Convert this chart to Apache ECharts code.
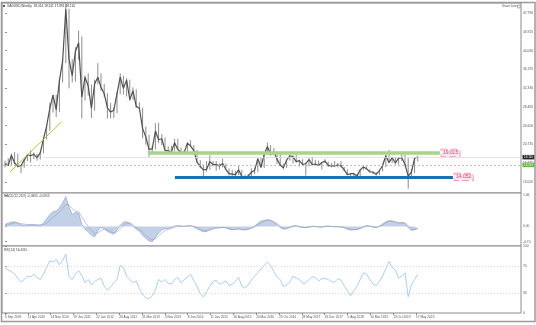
<!DOCTYPE html>
<html><head><meta charset="utf-8">
<script src="https://cdn.jsdelivr.net/npm/echarts@6/dist/echarts.min.js"></script>
<style>html,body{margin:0;padding:0;background:#fff}#c{width:536px;height:325px}</style>
</head><body><div id="c"></div>
<script>
// Monthly series, index 0 = Sep 2009 ... index 129 = Jun 2020 (XAGUSD)
const closes = [16.6,16.4,18.5,16.9,
16.2,16.4,17.5,18.6,18.4,18.7,18.0,19.0,21.8,24.5,28.2,30.9,
27.9,33.9,37.9,48.6,38.4,34.9,39.9,41.7,30.5,34.6,32.8,28.2,
33.2,34.6,32.5,31.2,28.3,27.4,27.8,31.2,34.6,32.3,34.0,30.0,
31.8,28.6,28.2,24.0,22.3,19.7,19.8,23.5,21.7,21.9,19.5,19.4,
19.2,21.1,19.7,19.1,19.1,21.0,20.4,19.5,17.1,16.2,15.5,15.6,
17.2,16.6,16.6,16.3,16.8,15.6,14.7,14.6,14.5,15.5,14.1,13.8,
14.2,15.0,15.4,17.8,16.0,18.7,20.3,18.7,19.2,17.7,16.5,15.9,
17.5,18.4,18.2,17.2,17.4,16.6,16.8,17.6,16.6,16.7,16.4,17.0,
17.3,16.4,16.3,16.3,16.5,16.3,15.5,14.5,14.7,14.7,14.2,15.5,
16.1,15.7,15.1,15.0,14.6,15.3,16.4,18.4,17.0,18.0,16.9,17.9,
18.0,16.6,14.2,15.0,17.9,18.11];
const highs = [17.4,17.9,18.9,19.2,
18.8,16.5,17.6,18.8,19.5,19.1,18.8,19.2,22.1,24.8,29.3,31.0,
31.0,34.3,38.2,49.8,48.7,38.3,40.8,44.2,43.0,35.0,35.4,33.1,
34.1,37.5,35.4,33.2,31.3,29.3,28.3,31.5,35.4,34.9,34.4,34.1,
32.5,32.1,29.4,28.3,24.4,22.7,20.4,25.1,25.2,22.9,22.2,20.3,
20.5,21.9,21.9,20.1,19.6,21.2,21.6,20.6,19.6,17.5,16.6,17.3,
18.5,17.3,17.3,16.8,17.8,16.8,15.8,15.5,15.3,16.3,15.5,14.5,
14.6,15.8,15.9,17.8,18.0,18.7,21.1,20.6,20.0,19.3,18.7,16.8,
17.5,18.5,18.5,18.6,17.6,17.7,16.9,17.9,18.2,17.5,17.4,17.1,
17.7,17.2,16.9,17.3,16.9,17.3,16.1,15.6,14.8,14.9,14.7,15.6,
16.2,16.2,15.6,15.2,15.0,15.5,16.6,18.6,19.6,18.2,18.1,18.1,
18.9,18.6,17.9,15.7,18.0,18.4];
const lows = [16.0,16.3,16.5,16.7,
16.0,14.8,15.9,17.3,17.0,17.7,17.4,17.6,18.9,21.8,23.6,27.3,
26.4,27.4,33.5,37.5,32.3,33.5,33.7,38.2,26.1,29.8,30.8,26.2,
27.7,33.1,31.8,30.5,26.1,26.1,26.2,27.2,31.1,31.0,30.6,29.7,
29.9,28.2,27.9,22.0,20.7,18.2,18.8,19.7,21.0,20.6,19.5,18.8,
18.9,19.4,19.6,19.0,18.7,18.8,20.3,19.2,16.9,15.8,14.2,15.1,
15.5,16.2,15.3,15.6,16.0,15.5,14.3,13.9,14.0,14.4,13.9,13.6,
13.6,14.0,14.6,15.1,15.9,15.9,18.6,18.4,18.6,16.7,16.3,15.6,
15.9,17.4,16.8,17.0,16.2,16.4,14.3,16.2,16.4,16.5,16.4,15.6,
16.9,16.1,16.0,16.1,16.0,16.0,15.3,14.4,13.9,14.2,13.9,14.0,
15.4,15.5,14.9,14.6,14.3,14.4,15.2,16.1,16.9,16.9,16.6,16.6,
17.3,16.4,11.6,13.8,14.8,17.2];
const macdMain = [0.10,0.15,0.20,0.22,
0.15,0.08,0.05,0.06,0.08,0.08,0.06,0.06,0.15,0.35,0.55,0.68,
0.72,0.86,1.08,1.38,0.90,0.55,0.65,0.62,0.10,-0.12,-0.24,-0.40,
-0.47,-0.20,-0.03,-0.10,-0.22,-0.30,-0.35,-0.15,0.05,0.20,0.22,0.15,
0.00,-0.12,-0.22,-0.40,-0.55,-0.66,-0.70,-0.50,-0.30,-0.15,-0.10,-0.08,
-0.05,0.02,0.04,0.02,0.00,0.03,0.04,-0.02,-0.10,-0.18,-0.24,-0.22,
-0.14,-0.08,-0.06,-0.05,-0.04,-0.06,-0.12,-0.15,-0.14,-0.10,-0.14,-0.16,
-0.12,-0.06,0.02,0.15,0.25,0.28,0.32,0.28,0.20,0.08,-0.05,-0.12,
-0.10,-0.02,0.03,0.04,-0.02,-0.04,-0.05,-0.02,0.02,0.00,-0.02,-0.03,
0.01,0.02,0.00,-0.01,-0.01,-0.02,-0.06,-0.12,-0.16,-0.15,-0.14,-0.08,
0.00,0.04,0.02,-0.03,-0.05,0.02,0.12,0.22,0.27,0.26,0.20,0.16,
0.18,0.15,-0.05,-0.18,-0.15,-0.08];
const macdSignal = [0.05,0.09,0.13,0.17,
0.17,0.14,0.11,0.09,0.08,0.08,0.07,0.07,0.09,0.16,0.28,0.42,
0.54,0.66,0.82,1.02,1.00,0.82,0.72,0.68,0.45,0.20,0.00,-0.18,
-0.32,-0.30,-0.18,-0.12,-0.16,-0.23,-0.29,-0.24,-0.10,0.06,0.15,0.16,
0.08,-0.03,-0.13,-0.26,-0.40,-0.53,-0.62,-0.57,-0.44,-0.29,-0.19,-0.13,
-0.09,-0.03,0.01,0.02,0.01,0.02,0.03,0.01,-0.05,-0.12,-0.19,-0.21,
-0.17,-0.12,-0.08,-0.06,-0.05,-0.05,-0.09,-0.13,-0.14,-0.12,-0.13,-0.15,
-0.13,-0.09,-0.03,0.07,0.17,0.24,0.29,0.28,0.23,0.14,0.03,-0.07,
-0.09,-0.05,0.00,0.03,0.00,-0.03,-0.04,-0.03,0.00,0.00,-0.01,-0.02,
0.00,0.01,0.01,0.00,-0.01,-0.01,-0.04,-0.09,-0.13,-0.14,-0.14,-0.10,
-0.04,0.01,0.02,-0.01,-0.03,0.00,0.07,0.16,0.23,0.25,0.22,0.18,
0.17,0.16,0.04,-0.10,-0.13,-0.10];
const rsi = [67,64,62,58,
52,46,50,55,54,58,53,50,58,68,78,76,
80,72,78,88,54,50,58,63,56,45,50,42,
47,50,52,40,34,39,45,50,71,68,55,50,
45,48,36,28,23,21,26,34,50,46,50,44,
43,50,53,45,50,54,58,48,40,29,24,32,
40,47,49,43,45,48,41,43,47,53,40,37,
42,49,55,60,66,71,76,71,62,54,50,39,
42,46,55,52,50,44,45,50,54,53,48,51,
52,50,47,46,51,49,41,33,26,33,40,50,
60,58,50,43,41,47,55,66,77,68,64,52,
55,60,24,42,50,58];

// Tick labels
const xTickPos = [0,7.13,14.27,21.40,28.54,35.67,42.81,49.94,57.08,64.21,71.35,78.48,85.62,92.75,99.89,107.02,114.16,121.29,128.43];
const xTickLabels = ['6 Sep 2009','11 Apr 2010','14 Nov 2010','19 Jun 2011','22 Jan 2012','26 Aug 2012','31 Mar 2013','3 Nov 2013','8 Jun 2014','11 Jan 2015','16 Aug 2015','20 Mar 2016','23 Oct 2016','28 May 2017','31 Dec 2017','5 Aug 2018','10 Mar 2019','13 Oct 2019','17 May 2020'];
const priceTicks = [13.005,16.870,20.735,24.600,28.465,32.330,36.195,40.060,43.925,47.790];
const macdTicks = [1.46,0,-0.70];
const rsiTicks = [100,70,30,0];

// Drawn objects
const resistance = 19.015, support = 14.052;
const trendFrom = [1.6,15.1], trendTo = [17.7,25.4];
const bidPrice = 18.11, dashedLevel = 16.513;
const rsiLevels = [70,30];

const xMin = -0.94, xMax = 161.25;
const FONT = 'Liberation Sans';
const chart = echarts.init(document.getElementById('c'), null, {renderer:'canvas', width:536, height:325});

function xAxisDef(g, showLabels){
  const a = {type:'value', gridIndex:g, min:xMin, max:xMax, splitLine:{show:false},
    axisLine:{show:false}, axisTick:{show:false}, axisLabel:{show:false}};
  if (showLabels){
    a.axisTick = {show:true, customValues:xTickPos, length:2, lineStyle:{color:'#777', width:0.8}};
    a.axisLabel = {show:true, customValues:xTickPos, align:'left', margin:3, fontSize:3.2, color:'#555', fontFamily:FONT,
      formatter:function(v){ for (let k=0;k<xTickPos.length;k++){ if (Math.abs(xTickPos[k]-v)<0.01) return xTickLabels[k]; } return ''; }};
  }
  return a;
}
function yAxisDef(g, min, max, ticks, fmt){
  return {type:'value', gridIndex:g, position:'right', min:min, max:max, splitLine:{show:false},
    axisLine:{show:false},
    axisTick:{show:true, customValues:ticks, length:2, lineStyle:{color:'#777', width:0.8}},
    axisLabel:{show:true, customValues:ticks, margin:2, fontSize:3.3, color:'#555', fontFamily:FONT, formatter:fmt}};
}
const gridBase = {show:true, borderColor:'#8a8a8a', borderWidth:1, backgroundColor:'#fff', containLabel:false, outerBoundsMode:'none'};

const wickData = lows.map((l,i)=>[i,l,highs[i]]);
const closeData = closes.map((c,i)=>[i,c]);
const macdData = macdMain.map((v,i)=>[i,v]);
const sigData = macdSignal.map((v,i)=>[i,v]);
const rsiData = rsi.map((v,i)=>[i,v]);

function boxLabel(text, bg, fg, border, size){
  return {show:true, position:'end', distance:1.5, formatter:text, fontSize:size, fontFamily:FONT, color:fg,
    backgroundColor:bg, borderColor:border, borderWidth:border?0.8:0, borderType:'dashed', padding:[1,1.5,0.5,1.5]};
}

const option = {
  animation:false,
  backgroundColor:'#fff',
  grid:[
    Object.assign({left:2, top:3, width:519, height:190}, gridBase),
    Object.assign({left:2, top:193, width:519, height:53}, gridBase),
    Object.assign({left:2, top:246, width:519, height:67}, gridBase)
  ],
  xAxis:[xAxisDef(0,false), xAxisDef(1,false), xAxisDef(2,true)],
  yAxis:[
    yAxisDef(0, 10.72, 49.9, priceTicks, v=>v.toFixed(3)),
    yAxisDef(1, -0.90, 1.55, macdTicks, v=>v.toFixed(2)),
    yAxisDef(2, 0, 100, rsiTicks, v=>String(Math.round(v)))
  ],
  series:[
    {type:'custom', xAxisIndex:0, yAxisIndex:0, data:wickData, silent:true,
      renderItem:function(params, api){
        const p1 = api.coord([api.value(0), api.value(1)]);
        const p2 = api.coord([api.value(0), api.value(2)]);
        return {type:'line', shape:{x1:p1[0], y1:p1[1], x2:p2[0], y2:p2[1]}, style:{stroke:'#8c8c8c', lineWidth:1}};
      }},
    {type:'line', xAxisIndex:0, yAxisIndex:0, data:closeData, symbol:'none', silent:true,
      lineStyle:{color:'#505050', width:1.2}},
    {type:'line', xAxisIndex:0, yAxisIndex:0, data:[], clip:false, silent:true,
      markLine:{symbol:'none', silent:true, animation:false,
        data:[
          [{coord:[xMin, dashedLevel], lineStyle:{color:'#b9a9a9', width:0.8, type:[2,2]}, label:boxLabel('16.513','#63b446','#fff',null,3)},{coord:[xMax, dashedLevel]}],
          [{coord:[11.9, bidPrice], lineStyle:{color:'#dcdcdc', width:0.8, type:'solid'}, label:boxLabel('18.110','#262626','#fff',null,3)},{coord:[xMax, bidPrice]}],
          [{coord:trendFrom, lineStyle:{color:'#9ccc3c', width:1, type:'solid'}, label:{show:false}},{coord:trendTo}],
          [{coord:[44.7, resistance], lineStyle:{color:'#a7d38c', width:3.5, type:'solid'}, label:boxLabel('19.015','#fde6ee','#e0406e','#ef8fae',5)},{coord:[135.9, resistance]}],
          [{coord:[53.1, support], lineStyle:{color:'#1e70ab', width:3, type:'solid'}, label:boxLabel('14.052','#fde6ee','#e0406e','#ef8fae',5)},{coord:[140, support]}]
        ]}},
    {type:'line', xAxisIndex:1, yAxisIndex:1, data:macdData, symbol:'none', silent:true,
      lineStyle:{color:'#98acce', width:0.8}, areaStyle:{color:'#c3d1e8', opacity:1}},
    {type:'line', xAxisIndex:1, yAxisIndex:1, data:sigData, symbol:'none', silent:true,
      lineStyle:{color:'#9aa1b0', width:0.6}},
    {type:'line', xAxisIndex:2, yAxisIndex:2, data:rsiData, symbol:'none', silent:true,
      lineStyle:{color:'#a0c8ec', width:0.9},
      markLine:{symbol:'none', silent:true, label:{show:false},
        lineStyle:{color:'#c9c9c9', width:0.7, type:[1,2]},
        data:rsiLevels.map(v=>({yAxis:v}))}}
  ],
  graphic:[
    {type:'rect', shape:{x:1.5, y:2.5, width:533.5, height:319}, style:{fill:'none', stroke:'#9a9a9a', lineWidth:1.5}, z:100, silent:true},
    {type:'rect', shape:{x:3, y:5, width:2, height:2}, style:{fill:'#555'}, z:100, silent:true},
    {type:'text', x:7, y:4.8, style:{text:'XAGUSD,Weekly  18.014 18.241 17.891 18.110', fontSize:3.2, fontFamily:FONT, fill:'#333', verticalAlign:'top'}, z:100, silent:true},
    {type:'text', x:502, y:5, style:{text:'Smart Lines', fontSize:3, fontFamily:FONT, fill:'#555', verticalAlign:'top'}, z:100, silent:true},
    {type:'rect', shape:{x:517.5, y:5, width:2.5, height:3}, style:{fill:'none', stroke:'#888', lineWidth:0.6}, z:100, silent:true},
    {type:'text', x:4, y:195, style:{text:'MACD(12,26,9) -0.0805 -0.0953', fontSize:3.2, fontFamily:FONT, fill:'#444', verticalAlign:'top'}, z:100, silent:true},
    {type:'text', x:4, y:248.5, style:{text:'RSI(14) 56.4310', fontSize:3.2, fontFamily:FONT, fill:'#444', verticalAlign:'top'}, z:100, silent:true}
  ]
};
chart.setOption(option);
</script>
</body></html>
